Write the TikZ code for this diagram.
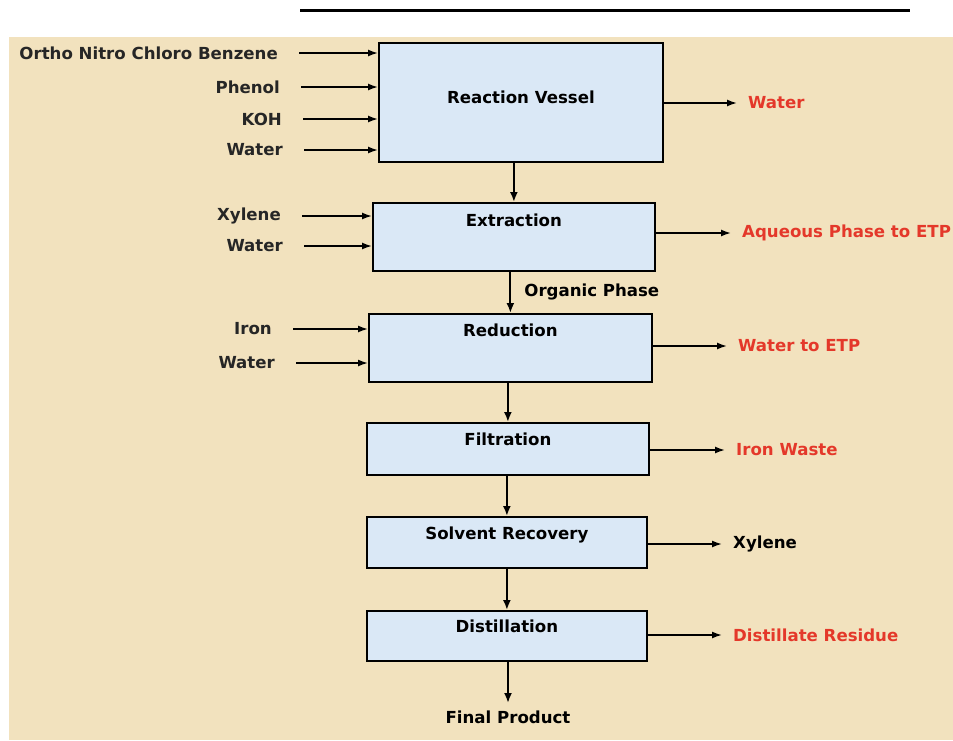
\documentclass[tikz,border=0pt]{standalone}
\usepackage{fontspec}
\setmainfont{DejaVu Sans}
\usepackage{tikz}
\usetikzlibrary{arrows.meta,positioning,calc}

\definecolor{paper}{RGB}{242,226,190}
\definecolor{boxblue}{RGB}{218,232,246}
\definecolor{outred}{RGB}{228,56,42}

\tikzset{
	proc/.style={draw=black, line width=1.8pt, fill=boxblue, anchor=north west, inner ysep=0pt, font=\fontsize{16.6}{18}\selectfont\bfseries},
	feed/.style={font=\fontsize{16.6}{18}\selectfont\bfseries, text=black!85, anchor=east, inner xsep=1pt},
	prod/.style={font=\fontsize{16.6}{18}\selectfont\bfseries, anchor=west, inner xsep=1pt},
	inflow/.style={-{Latex[length=10pt,width=7pt]}, line width=1.6pt, shorten <=20pt},
	outflow/.style={-{Latex[length=10pt,width=7pt]}, line width=1.6pt, shorten >=10pt},
	flow/.style={-{Latex[length=10pt,width=8pt]}, line width=2pt}
}

\begin{document}
\begin{tikzpicture}[x=1pt,y=-1pt]
		\useasboundingbox (0,0) rectangle (953,740);
		\fill[paper] (9,37) rectangle (953,740);
		\draw[line width=3pt] (300,10) -- (910,10);

		\node[proc, minimum width=284pt, text height=61pt, text depth=58pt] (rv) at (378,42) {Reaction Vessel};
		\node[proc, minimum width=282pt, text height=24pt, text depth=44pt] (ext) at (372,202) {Extraction};
		\node[proc, minimum width=283pt, text height=23pt, text depth=45pt] (red) at (368,313) {Reduction};
		\node[proc, minimum width=282pt, text height=23pt, text depth=29pt] (fil) at (366,422) {Filtration};
		\node[proc, minimum width=280pt, text height=23pt, text depth=28pt] (sr) at (366,516) {Solvent Recovery};
		\node[proc, minimum width=280pt, text height=22pt, text depth=28pt] (dis) at (366,610) {Distillation};

		\node[feed] (oncb) at (279,53) {Ortho Nitro Chloro Benzene};
		\node[feed] (phenol) at (281,87) {Phenol};
		\node[feed] (koh) at (283,119) {KOH};
		\node[feed] (water1) at (284,150) {Water};
		\node[feed] (xylene1) at (282,216) {Xylene};
		\node[feed] (water2) at (284,246) {Water};
		\node[feed] (iron) at (273,329) {Iron};
		\node[feed] (water3) at (276,363) {Water};

		\node[prod, text=outred] (water4) at (747,103) {Water};
		\node[prod, text=outred] (aq) at (741,233) {Aqueous Phase to ETP};
		\node[prod, text=outred] (etp) at (737,346) {Water to ETP};
		\node[prod, text=outred] (waste) at (735,450) {Iron Waste};
		\node[prod] (xylene2) at (732,544) {Xylene};
		\node[prod, text=outred] (residue) at (732,635) {Distillate Residue};
		\node[prod, anchor=center] (final) at (508,717) {Final Product};

		\foreach \f/\b in {oncb/rv, phenol/rv, koh/rv, water1/rv, xylene1/ext, water2/ext, iron/red, water3/red}
			\draw[inflow] (\f.east) -- (\f.east -| \b.west);
		\foreach \b/\p in {rv/water4, ext/aq, red/etp, fil/waste, sr/xylene2, dis/residue}
			\draw[outflow] (\p.west -| \b.east) -- (\p.west);

		\draw[flow] (ext.north |- rv.south) -- (ext.north);
		\draw[flow] (red.north |- ext.south) -- node[right=12pt, prod, anchor=west] (org) {Organic Phase} (red.north);
		\draw[flow] (fil.north |- red.south) -- (fil.north);
		\draw[flow] (sr.north |- fil.south) -- (sr.north);
		\draw[flow] (dis.north |- sr.south) -- (dis.north);
		\draw[flow] (dis.south -| final.north) -- ([yshift=4pt]final.north);
	\end{tikzpicture}
\end{document}
